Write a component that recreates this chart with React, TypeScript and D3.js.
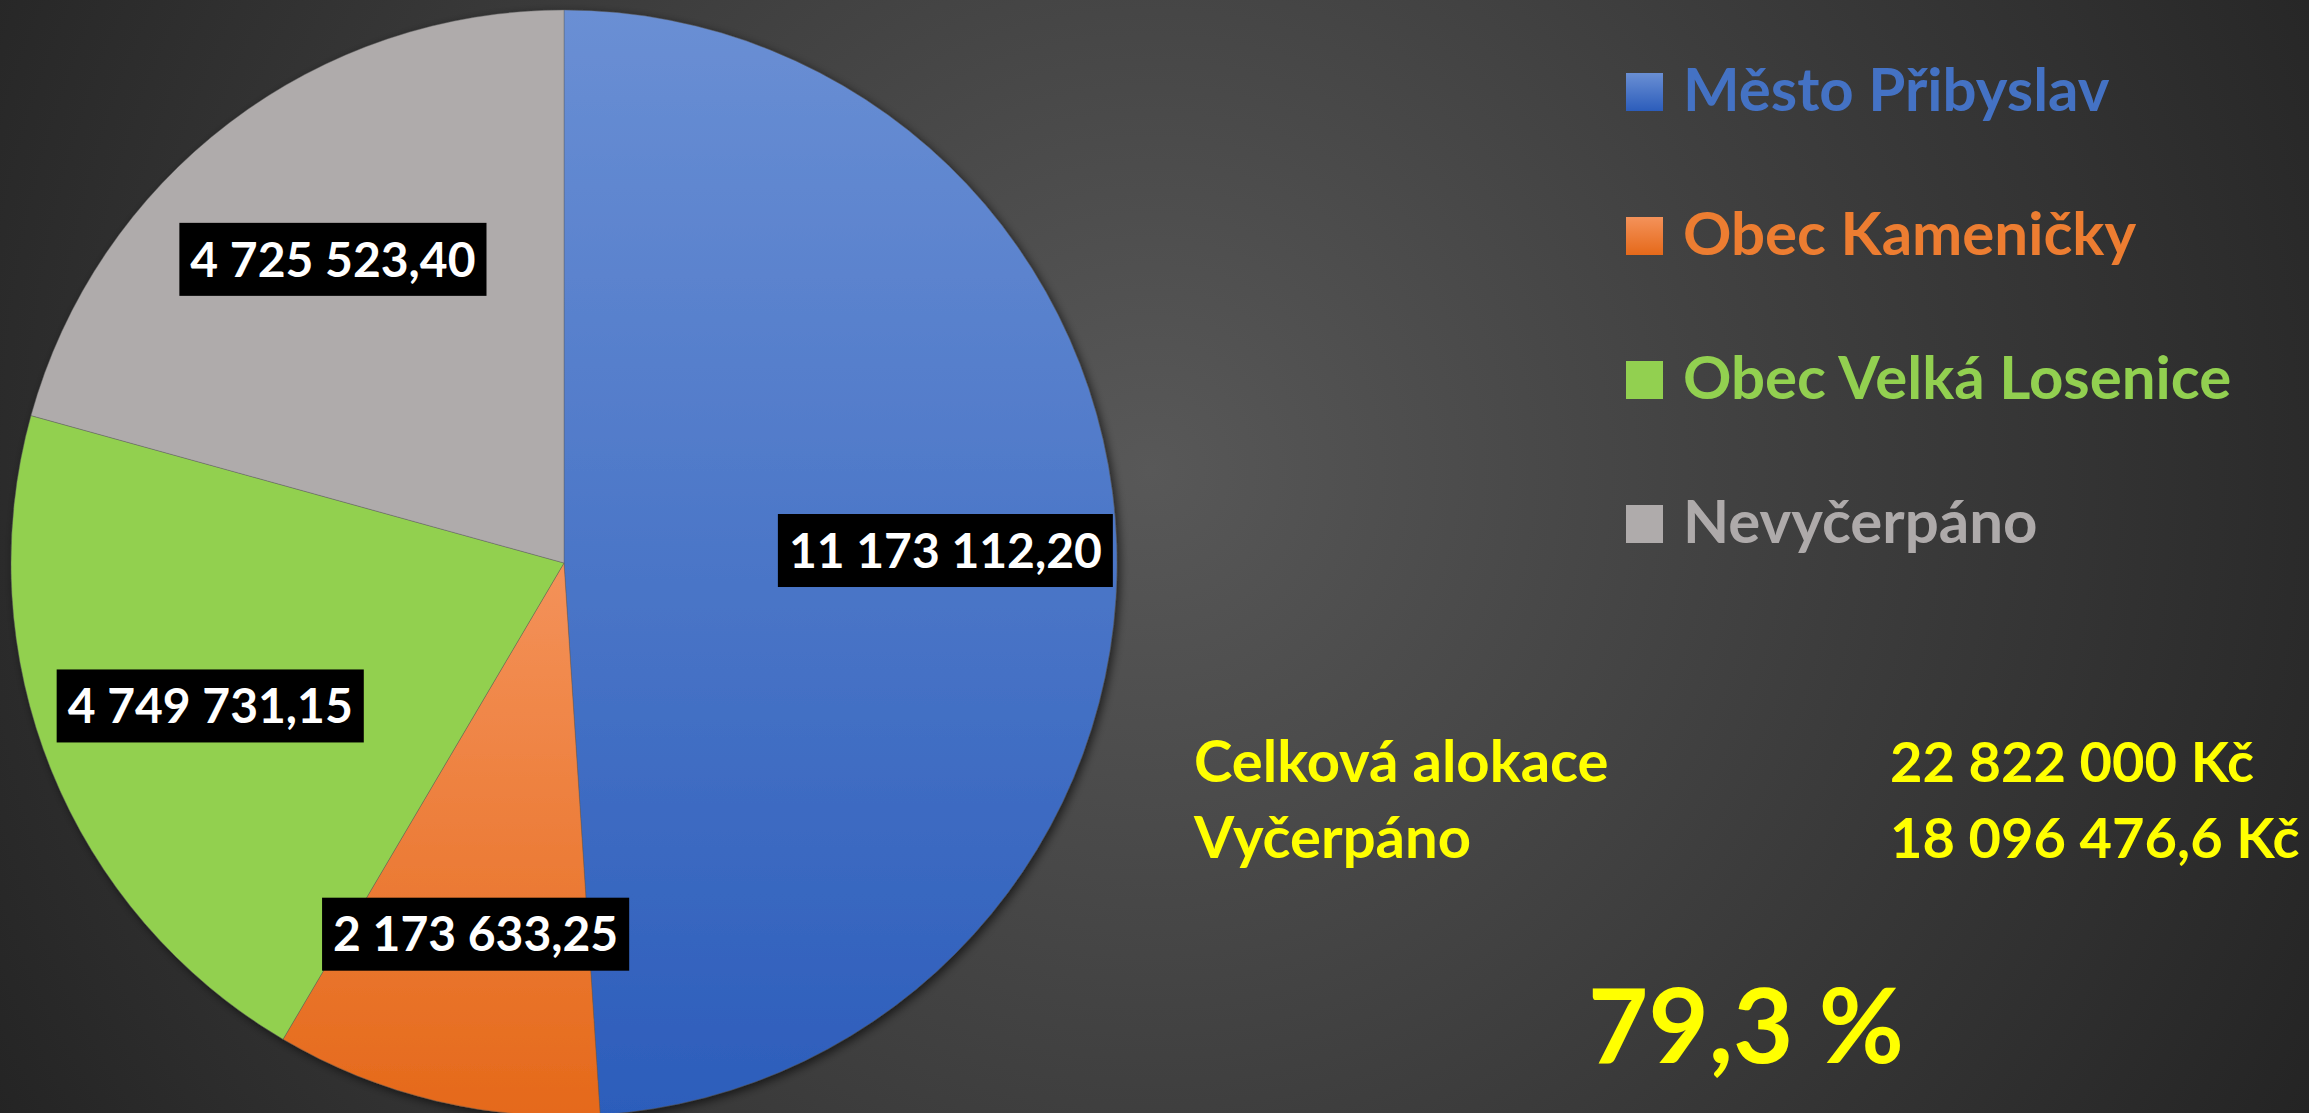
import React, { useEffect, useRef } from 'react';
import * as d3 from 'd3';

// data
const categories = ['Město Přibyslav', 'Obec Kameničky', 'Obec Velká Losenice', 'Nevyčerpáno'];
const values = [11173112.2, 2173633.25, 4749731.15, 4725523.4];
const summaryNames = ['Celková alokace', 'Vyčerpáno'];
const summaryValues = [22822000, 18096476.6];

const baseColors = ['#4472C4', '#ED7D31', '#92D050', '#AEAAAA'];
const topColors = ['#6A8FD4', '#F4925A', '#92D050', '#AFABAB'];
const bottomColors = ['#2C5DBB', '#E5691A', '#92D050', '#AFABAB'];

const W = 2309;
const H = 1113;
const FONT = 'Lato, "Open Sans", sans-serif';

const cz = d3.formatLocale({ decimal: ',', thousands: ' ', grouping: [3], currency: ['', ' Kč'] });

export default function App() {
    const ref = useRef<SVGSVGElement>(null);

    useEffect(() => {
        const svg = d3.select(ref.current);
        svg.selectAll('*').remove();
        const defs = svg.append('defs');

        // background
        const bg = defs.append('radialGradient').attr('id', 'bg')
            .attr('gradientUnits', 'userSpaceOnUse')
            .attr('cx', 1150).attr('cy', 470).attr('r', 1350);
        bg.append('stop').attr('offset', 0).attr('stop-color', '#585858');
        bg.append('stop').attr('offset', 1).attr('stop-color', '#232323');
        svg.append('rect').attr('width', W).attr('height', H).attr('fill', 'url(#bg)');

        // slice gradients (light top -> dark bottom)
        baseColors.forEach((c, i) => {
            const g = defs.append('linearGradient').attr('id', 'g' + i)
                .attr('x1', 0).attr('y1', 0).attr('x2', 0).attr('y2', 1);
            g.append('stop').attr('offset', 0).attr('stop-color', topColors[i]);
            g.append('stop').attr('offset', 1).attr('stop-color', bottomColors[i]);
        });

        const f = defs.append('filter').attr('id', 'sh')
            .attr('x', '-10%').attr('y', '-10%').attr('width', '120%').attr('height', '120%');
        f.append('feDropShadow').attr('dx', 3).attr('dy', 3).attr('stdDeviation', 5)
            .attr('flood-color', '#000').attr('flood-opacity', 0.6);

        const cx = 564, cy = 563, radius = 553;
        const pie = d3.pie<number>().sort(null).value(d => d);
        const arcs = pie(values);
        const arc = d3.arc<d3.PieArcDatum<number>>().innerRadius(0).outerRadius(radius);
        const labelArc = d3.arc<d3.PieArcDatum<number>>().innerRadius(radius * 0.69).outerRadius(radius * 0.69);

        const g = svg.append('g').attr('transform', `translate(${cx},${cy})`);
        g.append('g').attr('filter', 'url(#sh)')
            .selectAll('path')
            .data(arcs)
            .enter()
            .append('path')
            .attr('d', arc)
            .attr('fill', (d, i) => `url(#g${i})`)
            .attr('stroke', '#5a5a5a')
            .attr('stroke-width', 0.4);

        // data labels (black boxes)
        const fmt2 = cz.format(',.2f');
        const labels = g.selectAll('g.lab')
            .data(arcs)
            .enter()
            .append('g')
            .attr('class', 'lab')
            .attr('transform', d => `translate(${labelArc.centroid(d)})`);
        labels.each(function (d) {
            const lg = d3.select(this);
            const t = lg.append('text')
                .attr('text-anchor', 'middle')
                .attr('dy', '0.36em')
                .attr('fill', '#fff')
                .style('font-family', FONT)
                .style('font-weight', 700)
                .style('font-size', '48px')
                .text(fmt2(d.data));
            const w = (t.node() as SVGTextElement).getComputedTextLength();
            lg.insert('rect', 'text')
                .attr('x', -w / 2 - 11).attr('y', -36.5)
                .attr('width', w + 22).attr('height', 73)
                .attr('fill', '#000');
        });

        // legend
        const legend = svg.append('g');
        categories.forEach((name, i) => {
            const y = 111 + i * 144;
            legend.append('rect').attr('x', 1626).attr('y', y - 38).attr('width', 37).attr('height', 38)
                .attr('fill', `url(#g${i})`);
            legend.append('text').attr('x', 1683).attr('y', y)
                .attr('fill', baseColors[i])
                .style('font-family', FONT).style('font-weight', 700).style('font-size', '60px')
                .text(name);
        });

        // summary
        const fmtKc = [cz.format('$,.0f'), cz.format('$,.1f')];
        summaryNames.forEach((name, i) => {
            const y = 782 + i * 76;
            svg.append('text').attr('x', 1194).attr('y', y).attr('fill', '#FFFF00')
                .style('font-family', FONT).style('font-weight', 700).style('font-size', '58px')
                .text(name);
            svg.append('text').attr('x', 1890).attr('y', y).attr('fill', '#FFFF00')
                .style('font-family', FONT).style('font-weight', 700).style('font-size', '56px')
                .text(fmtKc[i](summaryValues[i]));
        });
        const pct = summaryValues[1] / summaryValues[0] * 100;
        svg.append('text').attr('x', 1746).attr('y', 1063).attr('text-anchor', 'middle').attr('fill', '#FFFF00')
            .style('font-family', FONT).style('font-weight', 700).style('font-size', '104px')
            .text(cz.format('.1f')(pct) + ' %');
    }, []);

    return (
        <svg ref={ref} width={W} height={H} style={{ position: 'absolute', left: 0, top: 0, display: 'block' }} />
    );
}
